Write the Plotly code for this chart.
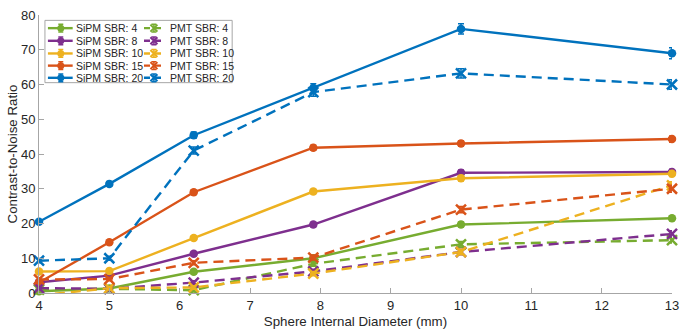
import plotly.graph_objects as go

diam = [4, 5, 6.2, 7.9, 10, 13]
sbr_levels = [4, 8, 10, 15, 20]
colors = ["#77AC30", "#7E2F8E", "#EDB120", "#D95319", "#0072BD"]

sipm = {
    4: [0.5, 1.3, 6.1, 10.0, 19.7, 21.5],
    8: [3.1, 5.0, 11.3, 19.7, 34.6, 34.8],
    10: [6.2, 6.3, 15.8, 29.2, 33.0, 34.3],
    15: [3.0, 14.6, 29.0, 41.8, 43.0, 44.3],
    20: [20.5, 31.4, 45.4, 59.0, 76.0, 69.0],
}
sipm_err = {
    4: [0.5, 0.5, 0.6, 0.6, 0.7, 0.7],
    8: [0.5, 0.5, 0.6, 0.6, 0.8, 0.8],
    10: [0.5, 0.5, 0.6, 0.6, 0.8, 0.8],
    15: [0.5, 0.5, 0.6, 0.7, 0.8, 0.9],
    20: [0.6, 0.7, 0.9, 1.2, 1.5, 1.6],
}
pmt = {
    4: [1.0, 1.2, 0.8, 8.4, 14.0, 15.2],
    8: [1.4, 1.2, 3.0, 6.2, 11.8, 17.0],
    10: [-0.7, 1.4, 1.6, 5.6, 11.8, 31.0],
    15: [3.9, 4.0, 8.7, 10.2, 24.0, 30.0],
    20: [9.3, 10.0, 41.0, 57.8, 63.2, 60.0],
}
pmt_err = {
    4: [0.5, 0.5, 0.5, 0.7, 0.8, 0.8],
    8: [0.5, 0.5, 0.5, 0.6, 0.8, 0.9],
    10: [0.5, 0.5, 0.5, 0.6, 0.8, 1.0],
    15: [0.5, 0.5, 0.6, 0.7, 0.9, 1.0],
    20: [0.6, 0.6, 1.0, 1.2, 1.3, 1.4],
}

FONT = "Liberation Sans, Arial, sans-serif"
TXT = "#262626"
DASH = "10px,6px"
LW = 2.4

fig = go.Figure()
for s, c in zip(sbr_levels, colors):
    fig.add_trace(go.Scatter(
        x=diam, y=sipm[s], name=f"SiPM SBR: {s}", mode="lines+markers",
        line=dict(color=c, width=LW),
        marker=dict(symbol="circle", size=8.5, color=c),
        error_y=dict(type="data", array=sipm_err[s], color=c, thickness=1.5, width=3),
        cliponaxis=min(sipm[s]) < 0, showlegend=False,
    ))
for s, c in zip(sbr_levels, colors):
    fig.add_trace(go.Scatter(
        x=diam, y=pmt[s], name=f"PMT SBR: {s}", mode="lines+markers",
        line=dict(color=c, width=LW, dash=DASH),
        marker=dict(symbol="x-thin", size=10, color=c, line=dict(color=c, width=2.5)),
        error_y=dict(type="data", array=pmt_err[s], color=c, thickness=1.5, width=3),
        cliponaxis=min(pmt[s]) < 0, showlegend=False,
    ))

# ---- manual MATLAB-style legend on an overlay axis measured in page pixels ----
PL, PR, PT, PB = 39, 678, 7.5, 293
box_x = [45, 234, 234, 45, 45]
box_y = [13, 13, 77, 77, 13]
fig.add_trace(go.Scatter(x=box_x, y=box_y, xaxis="x2", yaxis="y2", mode="lines",
                         fill="toself", fillcolor="white", line=dict(color="#a6a6a6", width=1),
                         hoverinfo="skip", showlegend=False, cliponaxis=False))
row_y = [21, 34, 47, 59.5, 72]
annotations = []
for i, (s, c) in enumerate(zip(sbr_levels, colors)):
    yy = row_y[i]
    fig.add_trace(go.Scatter(x=[48, 73], y=[yy, yy], xaxis="x2", yaxis="y2", mode="lines",
                             line=dict(color=c, width=LW), showlegend=False, hoverinfo="skip",
                             cliponaxis=False))
    fig.add_trace(go.Scatter(x=[61], y=[yy], xaxis="x2", yaxis="y2", mode="markers",
                             marker=dict(symbol="circle", size=7, color=c),
                             error_y=dict(type="data", array=[4], color=c, thickness=1.5, width=2.5),
                             showlegend=False, hoverinfo="skip", cliponaxis=False))
    fig.add_trace(go.Scatter(x=[145, 163], y=[yy, yy], xaxis="x2", yaxis="y2", mode="lines",
                             line=dict(color=c, width=LW, dash="6px,5px"), showlegend=False,
                             hoverinfo="skip", cliponaxis=False))
    fig.add_trace(go.Scatter(x=[155], y=[yy], xaxis="x2", yaxis="y2", mode="markers",
                             marker=dict(symbol="x-thin", size=7, color=c, line=dict(color=c, width=2)),
                             error_y=dict(type="data", array=[4], color=c, thickness=1.5, width=2.5),
                             showlegend=False, hoverinfo="skip", cliponaxis=False))
    annotations.append(dict(x=74, y=yy, xref="x2", yref="y2", text=f"SiPM SBR: {s}",
                            showarrow=False, xanchor="left", yanchor="middle",
                            font=dict(family=FONT, size=10.5, color=TXT)))
    annotations.append(dict(x=169, y=yy, xref="x2", yref="y2", text=f"PMT SBR: {s}",
                            showarrow=False, xanchor="left", yanchor="middle",
                            font=dict(family=FONT, size=10.5, color=TXT)))

axis_common = dict(
    showline=True, linecolor="#a6a6a6", linewidth=1, mirror=False,
    ticks="inside", ticklen=5, tickcolor="#a6a6a6", showgrid=False, zeroline=False,
    tickfont=dict(family=FONT, size=13, color=TXT),
)
fig.update_layout(
    xaxis=dict(range=[4, 13], tickvals=list(range(4, 14)),
               title=dict(text="Sphere Internal Diameter (mm)", standoff=5,
                          font=dict(family=FONT, size=13.3, color=TXT)),
               **axis_common),
    yaxis=dict(range=[0, 80], tickvals=list(range(0, 81, 10)),
               title=dict(text="Contrast-to-Noise Ratio", standoff=0,
                          font=dict(family=FONT, size=13.3, color=TXT)),
               **axis_common),
    xaxis2=dict(overlaying="x", range=[PL, PR], visible=False, fixedrange=True),
    yaxis2=dict(overlaying="y", range=[PB, PT], visible=False, fixedrange=True),
    width=687, height=336,
    margin=dict(l=PL, r=687 - PR, t=PT, b=336 - PB),
    plot_bgcolor="white", paper_bgcolor="white",
    showlegend=False,
    annotations=annotations,
)
fig.write_html("out.html")
